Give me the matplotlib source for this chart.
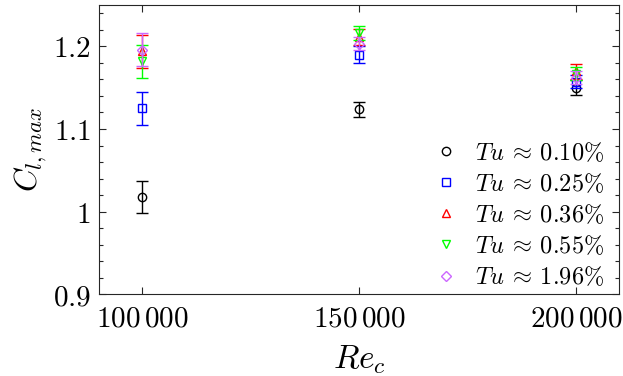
import matplotlib
matplotlib.use('Agg')
import matplotlib.pyplot as plt
from matplotlib.ticker import MultipleLocator

plt.rcParams['mathtext.fontset'] = 'cm'
plt.rcParams['font.family'] = 'serif'

# Reynolds numbers
re_c = [100000, 150000, 200000]

# Cl,max and error for each turbulence level
cl_010 = [1.018, 1.124, 1.150]
err_010 = [0.019, 0.009, 0.009]
cl_025 = [1.125, 1.190, 1.157]
err_025 = [0.020, 0.010, 0.008]
cl_036 = [1.194, 1.211, 1.170]
err_036 = [0.020, 0.010, 0.009]
cl_055 = [1.182, 1.216, 1.167]
err_055 = [0.020, 0.009, 0.008]
cl_196 = [1.196, 1.203, 1.162]
err_196 = [0.020, 0.008, 0.008]

labels = [r'$Tu\:\approx\:0.10\%$', r'$Tu\:\approx\:0.25\%$', r'$Tu\:\approx\:0.36\%$',
          r'$Tu\:\approx\:0.55\%$', r'$Tu\:\approx\:1.96\%$']
x_ticklabels = [r'$100\,000$', r'$150\,000$', r'$200\,000$']
y_ticks = [0.9, 1.0, 1.1, 1.2]
y_ticklabels = [r'$0.9$', r'$1$', r'$1.1$', r'$1.2$']

series = [
    (cl_010, err_010, 'o', 'k'),
    (cl_025, err_025, 's', (0, 0, 1)),
    (cl_036, err_036, '^', (1, 0, 0)),
    (cl_055, err_055, 'v', (0, 1, 0)),
    (cl_196, err_196, 'D', (0.8, 0.4, 1.0)),
]

fig = plt.figure(figsize=(6.23, 3.76), dpi=100)
ax = fig.add_axes([0.159, 0.217, 0.835, 0.770])

handles = []
for (cl, err, mk, col), lab in zip(series, labels):
    ms = 5 if mk == 'D' else 6
    ax.errorbar(re_c, cl, yerr=err, fmt='none', ecolor=col, elinewidth=1.0,
                capsize=4, capthick=1.0)
    h, = ax.plot(re_c, cl, linestyle='none', marker=mk, markersize=ms,
                 markerfacecolor='none', markeredgecolor=col, markeredgewidth=1.0,
                 label=lab)
    handles.append(h)

ax.set_xlim(90000, 210000)
ax.set_ylim(0.9, 1.25)
ax.set_xticks(re_c)
ax.set_xticklabels(x_ticklabels)
ax.set_yticks(y_ticks)
ax.set_yticklabels(y_ticklabels)
ax.yaxis.set_minor_locator(MultipleLocator(0.02))

ax.tick_params(which='both', direction='in', top=True, right=True,
               labelsize=21, color='0.15', width=0.8)
ax.tick_params(which='major', length=5)
ax.tick_params(which='minor', length=3)
ax.tick_params(axis='y', pad=6)
ax.tick_params(axis='x', pad=7)
for sp in ax.spines.values():
    sp.set_color('0.15')
    sp.set_linewidth(0.8)

ax.set_xlabel(r'$Re_c$', fontsize=24, labelpad=8)
ax.set_ylabel(r'$C_{l,max}$', fontsize=23, labelpad=3)

leg = ax.legend(handles=handles, loc='lower right', frameon=False, fontsize=17.5,
                handlelength=1.0, handletextpad=0.7, labelspacing=0.3,
                markerscale=1.0, borderaxespad=0.0, bbox_to_anchor=(0.99, -0.015))

fig.savefig('out.png', dpi=100)
